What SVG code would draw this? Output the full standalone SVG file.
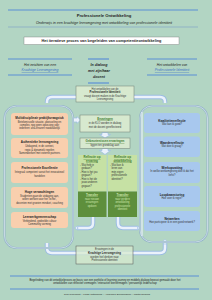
<svg xmlns="http://www.w3.org/2000/svg" width="212" height="300" viewBox="0 0 212 300">
<defs>
<style>
text{font-family:"Liberation Sans",Arial,sans-serif;fill:#222;text-anchor:middle}
.t{font-weight:bold;font-size:3px}
.s{font-size:2.6px;fill:#333}
.hd{font-size:3.4px;font-style:italic}
.lnk{fill:#3a6fc8;text-decoration:underline}
.bl{stroke:#5b8fd6;stroke-width:1.2}
.or{fill:#f9cfae}
.bu{fill:#a8c8ee}
.cb{fill:#d7e9cf;stroke:#6f7f74;stroke-width:0.5}
.pipeo{fill:none;stroke:#9cbde2;stroke-width:4.5;stroke-linecap:butt}
.pipei{fill:none;stroke:#eaf1fb;stroke-width:2.5}
.panel{fill:none;stroke:#94b4c8;stroke-width:2}
.paneli{fill:none;stroke:#dbe8f0;stroke-width:0.7}
.lg{fill:#c6e1a4}
.dg{fill:#5e8f3c}
.w{fill:#cfe8b0}
</style>
</defs>
<rect width="212" height="300" fill="#b2d5c3"/>
<g id="header">
<line class="bl" x1="8" y1="10" x2="198" y2="10"/>
<text x="104" y="17" style="font-weight:bold;font-size:4.2px">Professionele Ontwikkeling</text>
<text x="104" y="23.5" style="font-style:italic;font-size:3.6px">Onderwijs in een krachtige leeromgeving met ontwikkeling van professionele identiteit</text>
<line x1="8" y1="27" x2="198" y2="27" stroke="#7aa0c8" stroke-width="0.6"/>
<rect x="24" y="37" width="155" height="7.5" fill="#fff" stroke="#777" stroke-width="0.4"/>
<text x="101.5" y="42.2" style="font-weight:bold;font-size:3.8px">Het iteratieve proces van begeleiden van competentieontwikkeling</text>
</g>
<g id="col-headers">
<line class="bl" x1="8" y1="59" x2="72" y2="59"/>
<line class="bl" x1="8" y1="75" x2="72" y2="75"/>
<text class="hd" x="40" y="66">Het inrichten van een</text>
<text class="hd lnk" x="40" y="71">Krachtige Leeromgeving</text>
<line class="bl" x1="88" y1="59" x2="109" y2="59"/>
<line class="bl" x1="88" y1="83" x2="109" y2="83"/>
<text x="99" y="66" style="font-weight:bold;font-style:italic;font-size:3.6px">In dialoog</text>
<text x="99" y="72" style="font-weight:bold;font-style:italic;font-size:3.6px">met zijn/haar</text>
<text x="99" y="78" style="font-weight:bold;font-style:italic;font-size:3.6px">docent</text>
<line class="bl" x1="147" y1="59" x2="197" y2="59"/>
<line class="bl" x1="147" y1="75" x2="197" y2="75"/>
<text class="hd" x="172" y="66">Het ontwikkelen van</text>
<text class="hd lnk" x="172" y="71">Professionele Identiteit</text>
</g>
<g id="connectors">
<path class="pipeo" d="M47,103 V102 Q47,97 52,97 H160 Q165,97 165,102 V103"/>
<path class="pipei" d="M47,103 V102 Q47,97 52,97 H160 Q165,97 165,102 V103"/>
<path class="pipeo" d="M47,243 V248 Q47,253 52,253 H160 Q165,253 165,248 V243"/>
<path class="pipei" d="M47,243 V248 Q47,253 52,253 H160 Q165,253 165,248 V243"/>
<path class="pipeo" d="M93,217 V223 Q93,228 88,228 H77"/>
<path class="pipei" d="M93,217 V223 Q93,228 88,228 H77"/>
<path class="pipeo" d="M118,217 V223 Q118,228 123,228 H138"/>
<path class="pipei" d="M118,217 V223 Q118,228 123,228 H138"/>
<circle cx="76.5" cy="228" r="1.4" fill="#eaf1fb" stroke="#9cbde2" stroke-width="0.8"/>
<circle cx="139" cy="228" r="1.4" fill="#eaf1fb" stroke="#9cbde2" stroke-width="0.8"/>
<path d="M73,118 H77 V116.5 L80.5,120 L77,123.5 V122 H73 Z" fill="#eaf1fb" stroke="#9cbde2" stroke-width="0.7"/>
<path d="M102,132.5 H108 V134.5 H110.5 L105,138 L99.5,134.5 H102 Z" fill="#eaf1fb" stroke="#9cbde2" stroke-width="0.7"/>
<path d="M102,148.5 H108 V150.5 H110.5 L105,154.5 L99.5,150.5 H102 Z" fill="#eaf1fb" stroke="#9cbde2" stroke-width="0.7"/>
<path d="M163.5,244 V242 H162 L165,239.5 L168,242 H166.5 V244 Z" fill="#eaf1fb" stroke="#9cbde2" stroke-width="0.6"/>
</g>
<g id="left-panel">
<rect class="panel" x="4.5" y="106" width="68.5" height="142" rx="12"/>
<rect class="paneli" x="4.5" y="106" width="68.5" height="142" rx="12"/>
</g>
<g id="right-panel">
<rect class="panel" x="140" y="106" width="67.5" height="136" rx="12"/>
<rect class="paneli" x="140" y="106" width="67.5" height="136" rx="12"/>
<line x1="142" y1="112" x2="142" y2="236" stroke="#e6effa" stroke-width="1.2"/>
</g>
<g id="center-top">
<rect class="cb" x="76" y="86" width="58" height="16"/>
<text class="s" x="105" y="89.5">Het ontwikkelen van de</text>
<text class="t" x="105" y="93.2" style="font-size:2.8px">Professionele Identiteit</text>
<text class="s" x="105" y="96.6">vraagt docent maken in de Krachtige</text>
<text class="s" x="105" y="100">Leeromgeving</text>
</g>
<g id="ervaringen">
<rect class="cb" x="80" y="115" width="50" height="17"/>
<text class="t lnk" x="105" y="119.5" style="fill:#3d7a2e">Ervaringen</text>
<text class="s" x="105" y="124">in de KLO worden in dialoog</text>
<text class="s" x="105" y="128">met de docent gereflecteerd</text>
</g>
<g id="gebeurtenissen">
<rect class="cb" x="80" y="138" width="50" height="10.5"/>
<text class="t lnk" x="105" y="142" style="fill:#3d7a2e">Gebeurtenissen ervaringen</text>
<text class="s" x="105" y="146">liggen ten grondslag aan:</text>
</g>
<g id="reflectie-ervaring">
<rect class="lg" x="78" y="155" width="28.5" height="36.5"/>
<text class="t lnk" x="92" y="158" style="fill:#3d7a2e">Reflectie op</text>
<text class="t lnk" x="92" y="161.5" style="fill:#3d7a2e">ervaring</text>
<text class="s" x="80" y="165.5" style="text-anchor:start">- Wat heb je</text>
<text class="s" x="81.5" y="169" style="text-anchor:start">gedaan?</text>
<text class="s" x="80" y="172.5" style="text-anchor:start">- Hoe is het jou</text>
<text class="s" x="81.5" y="176" style="text-anchor:start">gegaan?</text>
<text class="s" x="80" y="179.5" style="text-anchor:start">- Hoe is het de</text>
<text class="s" x="81.5" y="183" style="text-anchor:start">jouw anderen</text>
<text class="s" x="81.5" y="186.5" style="text-anchor:start">gegaan?</text>
</g>
<g id="reflectie-ontwikkeling">
<rect class="lg" x="108" y="155" width="29" height="36.5"/>
<text class="t lnk" x="122.5" y="158" style="fill:#3d7a2e">Reflectie op</text>
<text class="t lnk" x="122.5" y="161.5" style="fill:#3d7a2e">ontwikkeling</text>
<text class="s" x="110" y="165.5" style="text-anchor:start">- Wat kan ik</text>
<text class="s" x="111.5" y="169" style="text-anchor:start">leren van</text>
<text class="s" x="111.5" y="172.5" style="text-anchor:start">mijn eigen</text>
<text class="s" x="111.5" y="176" style="text-anchor:start">professionele</text>
<text class="s" x="111.5" y="179.5" style="text-anchor:start">identiteit?</text>
</g>
<g id="transfer-1">
<rect class="dg" x="78" y="191.5" width="28.5" height="25.5"/>
<text class="t w lnk" x="92" y="195.5" style="fill:#cfe8b0">Transfer</text>
<text class="s w" x="92" y="199.5">naar nieuwe</text>
<text class="s w" x="92" y="203">ervaringen</text>
<text class="s w" x="92" y="206.5">opdoen</text>
</g>
<g id="transfer-2">
<rect class="dg" x="108" y="191.5" width="29" height="25.5"/>
<text class="t w lnk" x="122.5" y="195.5" style="fill:#cfe8b0">Transfer</text>
<text class="s w" x="122.5" y="199.5">naar verdere</text>
<text class="s w" x="122.5" y="203">ontwikkeling</text>
<text class="s w" x="122.5" y="206.5">professionele</text>
<text class="s w" x="122.5" y="210">identiteit</text>
</g>
<g id="center-bottom">
<rect x="76" y="246" width="57" height="18" fill="#d7e9cf" fill-opacity="0.75" stroke="#555" stroke-width="0.5"/>
<text class="s" x="104.5" y="250">Ervaringen in de</text>
<text class="t" x="104.5" y="254" style="font-size:2.8px">Krachtige Leeromgeving</text>
<text class="s" x="104.5" y="257.5">worden hiel denken naar</text>
<text class="s" x="104.5" y="261">Professionele identiteit</text>
</g>
<g id="left-1">
<rect class="or" x="11" y="113" width="57" height="22" rx="3"/>
<text class="t" x="39.5" y="118.5">Multidisciplinair praktijkvraagstuk</text>
<text class="s" x="39.5" y="122.5">Betekenisvolle situatie, afwisseling en</text>
<text class="s" x="39.5" y="125.5">complex, nog geen oplossing voor</text>
<text class="s" x="39.5" y="128.5">iedereen: aha-ervaren noodzakelijk</text>
</g>
<g id="left-2">
<rect class="or" x="11" y="138" width="57" height="20" rx="3"/>
<text class="t" x="39.5" y="143">Authentieke leeromgeving</text>
<text class="s" x="39.5" y="147">Uitdagend, in de context,</text>
<text class="s" x="39.5" y="150.5">regio &amp; dynamiek regelen</text>
<text class="s" x="39.5" y="154">Samenwerken met externe partners</text>
</g>
<g id="left-3">
<rect class="or" x="11" y="162" width="57" height="21" rx="3"/>
<text class="t" x="39.5" y="168.5">Professionele Excellentie</text>
<text class="s" x="39.5" y="173">Integraal competent vanuit het innovatievol</text>
<text class="s" x="39.5" y="176.5">handelen</text>
</g>
<g id="left-4">
<rect class="or" x="11" y="187" width="57" height="21" rx="3"/>
<text class="t" x="39.5" y="192.5">Hoge verwachtingen</text>
<text class="s" x="39.5" y="196.5">Studenten gaan de uitdaging aan,</text>
<text class="s" x="39.5" y="200">willen werken voor het 'echte',</text>
<text class="s" x="39.5" y="203.5">docenten met groeien mindset, coaching</text>
</g>
<g id="left-5">
<rect class="or" x="11" y="212" width="57" height="16" rx="3"/>
<text class="t" x="39.5" y="218">Leerwerkgemeenschap</text>
<text class="s" x="39.5" y="221.5">Verbindend, gedeelde cultuur</text>
<text class="s" x="39.5" y="225">Community vorming</text>
</g>
<g id="right-1">
<rect class="bu" x="144" y="113" width="56" height="20" rx="3"/>
<text class="t" x="172" y="121.5">Kwaliteitenreflectie</text>
<text class="s" x="172" y="125">Wat kan ik goed?</text>
</g>
<g id="right-2">
<rect class="bu" x="144" y="136.5" width="56" height="20.5" rx="3"/>
<text class="t" x="172" y="143.5">Waardenreflectie</text>
<text class="s" x="172" y="147">Wat doe ik graag?</text>
</g>
<g id="right-3">
<rect class="bu" x="144" y="162" width="56" height="21" rx="3"/>
<text class="t" x="172" y="168.5">Werkopvatting</text>
<text class="s" x="172" y="172">In welke werkomgeving doe ik dat het</text>
<text class="s" x="172" y="175.5">liefst?</text>
</g>
<g id="right-4">
<rect class="bu" x="144" y="186" width="56" height="21" rx="3"/>
<text class="t" x="172" y="195.5">Loopbaansturing</text>
<text class="s" x="172" y="199">Hoe voer ik regie?</text>
</g>
<g id="right-5">
<rect class="bu" x="144" y="211" width="56" height="20" rx="3"/>
<text class="t" x="172" y="219.5">Netwerken</text>
<text class="s" x="172" y="223">Hoe participeer ik in een goed netwerk?</text>
</g>
<g id="footer">
<line class="bl" x1="10" y1="276" x2="199" y2="276"/>
<text x="105" y="280.5" style="font-size:2.7px">Begeleiding van dit ontwikkelproces op basis van een portfolio of learning journey en middels dialoog bewust gemaakt door het</text>
<text x="105" y="284.3" style="font-size:2.7px">ontwikkelen van reflectief vermogen / interactief leervermogen / persoonlijk leiderschap</text>
<line class="bl" x1="10" y1="289" x2="199" y2="289"/>
<text x="107" y="294.5" style="font-size:2.5px">Ron Woerlmjet  –  Linda Wittenburg  –  Annemiek Doedendonk  –  Martin Rodens</text>
</g>
</svg>
